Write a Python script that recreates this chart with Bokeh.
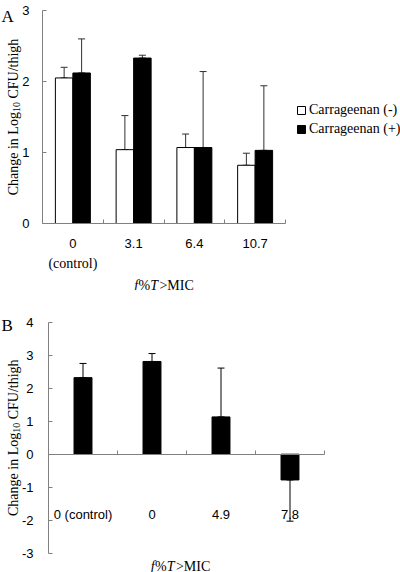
import math
from bokeh.plotting import figure
from bokeh.layouts import column
from bokeh.models import (Range1d, FixedTicker, Label, Whisker, TeeHead, LinearAxis,
                          ColumnDataSource, Legend, LegendItem)
from bokeh.embed import file_html
from bokeh.resources import INLINE

# ---------------- data ----------------
a_categories = ["0", "3.1", "6.4", "10.7"]
a_sublabels = ["(control)", "", "", ""]
a_series = ["Carrageenan (-)", "Carrageenan (+)"]
a_minus = [2.05, 1.04, 1.07, 0.82]
a_minus_err = [0.15, 0.48, 0.19, 0.17]
a_plus = [2.12, 2.33, 1.07, 1.03]
a_plus_err = [0.48, 0.04, 1.07, 0.91]
a_yticks = [0, 1, 2, 3]

b_categories = ["0 (control)", "0", "4.9", "7.8"]
b_values = [2.32, 2.81, 1.13, -0.78]
b_err = [0.43, 0.24, 1.48, 1.25]
b_yticks = [-3, -2, -1, 0, 1, 2, 3, 4]

SERIF = "Liberation Serif"
SANS = "Liberation Sans"
AXIS_COLOR = "#808080"
W = 400


class Panel:
    """Figure whose frame fills the canvas; pixel anchors -> data ranges."""

    def __init__(self, height, page_top, px0, px1, xr, py_top, py_bot, yr):
        self.page_top = page_top
        self.sx = (px1 - px0) / (xr[1] - xr[0])
        self.x0 = xr[0] - px0 / self.sx
        self.sy = (py_bot - py_top) / (yr[1] - yr[0])
        self.y_end = yr[1] + (py_top - page_top) / self.sy
        x_end = self.x0 + W / self.sx
        y_start = self.y_end - height / self.sy
        p = figure(width=W, height=height, x_range=Range1d(self.x0, x_end),
                   y_range=Range1d(y_start, self.y_end),
                   output_backend="svg", toolbar_location=None, tools="",
                   x_axis_location=None, y_axis_location=None,
                   min_border_left=0, min_border_right=0, min_border_top=0,
                   min_border_bottom=0)
        p.outline_line_color = None
        p.grid.visible = False
        p.background_fill_color = "white"
        p.border_fill_color = "white"
        self.p = p

    def mx(self, px):
        return self.x0 + px / self.sx

    def my(self, py):
        return self.y_end - (py - self.page_top) / self.sy


def add_axes(p, yticks, ybounds, ystandoff, xlabels, xstandoff):
    ya = LinearAxis(fixed_location=0, bounds=ybounds, ticker=FixedTicker(ticks=yticks))
    ya.major_tick_in = 4
    ya.major_tick_out = 0
    ya.minor_tick_in = 0
    ya.minor_tick_out = 0
    ya.axis_line_color = AXIS_COLOR
    ya.major_tick_line_color = AXIS_COLOR
    ya.major_label_text_font = SANS
    ya.major_label_text_font_size = "13px"
    ya.major_label_text_color = "black"
    ya.major_label_standoff = ystandoff
    ya.major_label_overrides = {t: str(t) for t in yticks}
    p.add_layout(ya, "left")

    n = len(xlabels)
    centers = [i + 0.5 for i in range(n)]
    xa = LinearAxis(fixed_location=0, bounds=(0, n),
                    ticker=FixedTicker(ticks=centers, minor_ticks=list(range(n + 1))))
    xa.major_tick_in = 0
    xa.major_tick_out = 0
    xa.minor_tick_in = 4
    xa.minor_tick_out = 0
    xa.axis_line_color = AXIS_COLOR
    xa.minor_tick_line_color = AXIS_COLOR
    xa.major_label_text_font = SANS
    xa.major_label_text_font_size = "13px"
    xa.major_label_text_color = "black"
    xa.major_label_standoff = xstandoff
    xa.major_label_overrides = {c: lab for c, lab in zip(centers, xlabels)}
    p.add_layout(xa, "below")


def add_text(p, x, y, text, font=SERIF, size="14px", align="center",
             baseline="middle", angle=0.0, style="normal"):
    p.add_layout(Label(x=x, y=y, text=text, text_font=font, text_font_size=size,
                       text_align=align, text_baseline=baseline, angle=angle,
                       text_font_style=style, text_color="black"))


# Times metrics (per 1000 em)
def add_xtitle(pn, center_px, baseline_py):
    pieces = [("f", "italic", 278 + 30), ("%", "normal", 833), ("T", "italic", 556 + 110),
              (">", "normal", 564), ("MIC", "normal", 889 + 333 + 667)]
    total = sum(w for _, _, w in pieces) * 14 / 1000
    x = center_px - total / 2
    for t, st, w in pieces:
        add_text(pn.p, pn.mx(x), pn.my(baseline_py), t, align="left",
                 baseline="alphabetic", style=st)
        x += w * 14 / 1000


def add_ytitle(pn, center_py, baseline_px):
    # (text, font px, advance incl. following space per 1000 em, baseline shift)
    pieces = [("Change in Log", 14, 5944, 0), ("10", 10, 1000 + 350, 3), ("CFU/thigh", 14, 4279, 0)]
    total = sum(w * s / 1000 for _, s, w, _ in pieces)
    y = center_py + total / 2
    for t, s, w, dx in pieces:
        add_text(pn.p, pn.mx(baseline_px + dx), pn.my(y), t, size=f"{s}px", align="left",
                 baseline="alphabetic", angle=math.pi / 2)
        y -= w * s / 1000


# ---------------- Panel A ----------------
HA = 290
A = Panel(HA, 0, 42, 285, (0, 4), 10, 223, (0, 3))
pA = A.p
add_axes(pA, a_yticks, (0, 3), 13, a_categories, 15)

bw = 0.288
xm = [i + 0.5 - bw / 2 for i in range(len(a_categories))]
xp = [i + 0.5 + bw / 2 for i in range(len(a_categories))]
srcA = ColumnDataSource(dict(xm=xm, xp=xp, minus=a_minus, plus=a_plus,
                             mu=[v + e for v, e in zip(a_minus, a_minus_err)],
                             pu=[v + e for v, e in zip(a_plus, a_plus_err)]))
for base, lo, up in (("xm", "minus", "mu"), ("xp", "plus", "pu")):
    pA.add_layout(Whisker(source=srcA, base=base, lower=lo, upper=up,
                          line_color="#303030", line_width=1,
                          upper_head=TeeHead(size=7, line_color="#303030", line_width=1),
                          lower_head=TeeHead(size=7, line_color="#303030", line_width=1)))
r_minus = pA.vbar(x="xm", top="minus", bottom=0, width=bw, source=srcA,
                  fill_color="white", line_color="black", line_width=1)
r_plus = pA.vbar(x="xp", top="plus", bottom=0, width=bw, source=srcA,
                 fill_color="black", line_color="black", line_width=1)

for k, (r, row_py) in enumerate(((r_minus, 110), (r_plus, 129))):
    leg = Legend(items=[LegendItem(label=a_series[k], renderers=[r])],
                 location=(296, HA - (row_py + 8)),
                 glyph_width=10, glyph_height=10, label_standoff=3, padding=0, margin=0,
                 spacing=0, label_height=10, border_line_color=None,
                 background_fill_alpha=0, label_text_font=SERIF,
                 label_text_font_size="14px", label_text_color="black")
    pA.add_layout(leg)

for i, s in enumerate(a_sublabels):
    if s:
        add_text(pA, i + 0.5, A.my(263), s)

add_xtitle(A, (42 + 285) / 2, 285)
add_ytitle(A, (10 + 223) / 2, 13)
add_text(pA, A.mx(1), A.my(16), "A", size="17px", align="left", baseline="alphabetic")

# ---------------- Panel B ----------------
HB = 282
B = Panel(HB, HA, 48, 324, (0, 4), 321.7, 552.7, (-3, 4))
pB = B.p
add_axes(pB, b_yticks, (-3, 4), 15, b_categories, 53)

bw2 = 0.26
xb = [i + 0.5 for i in range(len(b_categories))]
srcB = ColumnDataSource(dict(x=xb, v=b_values,
                             lo=[v - e if v < 0 else v for v, e in zip(b_values, b_err)],
                             up=[v if v < 0 else v + e for v, e in zip(b_values, b_err)]))
pB.add_layout(Whisker(source=srcB, base="x", lower="lo", upper="up",
                      line_color="black", line_width=1,
                      upper_head=TeeHead(size=7, line_color="black", line_width=1),
                      lower_head=TeeHead(size=7, line_color="black", line_width=1)))
pB.vbar(x="x", top="v", bottom=0, width=bw2, source=srcB,
        fill_color="black", line_color="black", line_width=1)

add_xtitle(B, (48 + 324) / 2 - 6, 566)
add_ytitle(B, (321.7 + 552.7) / 2, 13)
add_text(pB, B.mx(1), B.my(325), "B", size="17px", align="left", baseline="alphabetic")

layout = column(pA, pB, spacing=0)
open("out.html", "w").write(file_html(layout, INLINE))
